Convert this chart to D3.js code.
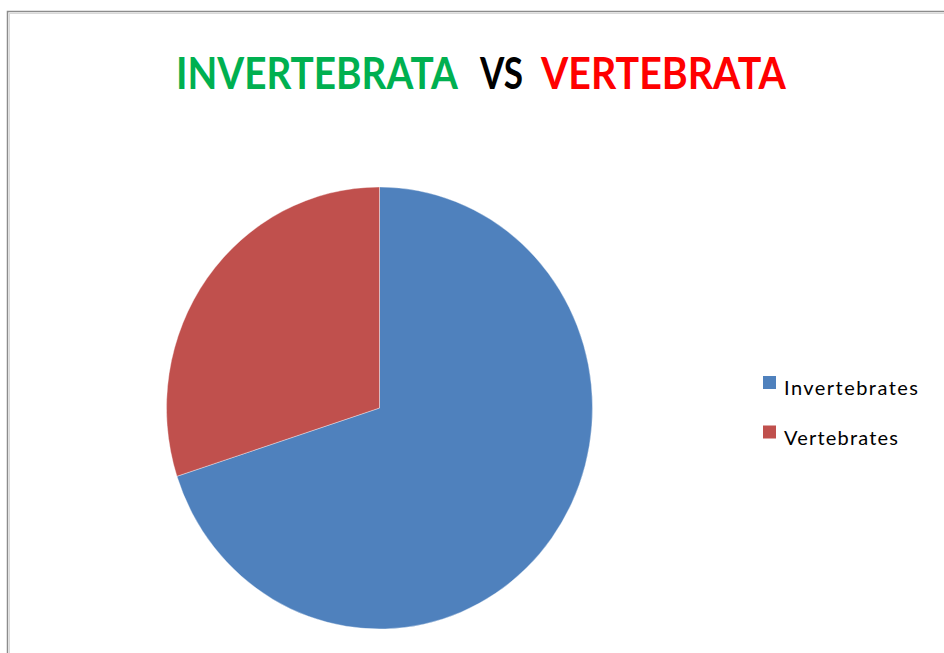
<!DOCTYPE html>
<meta charset="utf-8">
<script src="https://d3js.org/d3.v7.min.js"></script>
<style>
  body { margin: 0; background: #fff; }
</style>
<div id="my_dataviz"></div>
<script>

// chart data
var categories = ["Invertebrates", "Vertebrates"];
var values = [70, 30];
var colors = ["#4F81BD", "#C0504D"];
var titleWords = ["INVERTEBRATA", "VS", "VERTEBRATA"];
var titleColors = ["#00B050", "#000000", "#FF0000"];

var width = 944, height = 653;

var svg = d3.select("#my_dataviz")
  .append("svg")
  .attr("width", width)
  .attr("height", height);

// chart frame (runs off the right and bottom edges)
svg.append("rect")
  .attr("x", 7.5).attr("y", 11.5)
  .attr("width", 960).attr("height", 680)
  .attr("fill", "#fff")
  .attr("stroke", "#8c8c8c")
  .attr("stroke-width", 1.5);
svg.append("rect")
  .attr("x", 9.5).attr("y", 13.5)
  .attr("width", 960).attr("height", 680)
  .attr("fill", "none")
  .attr("stroke", "#d9d9d9")
  .attr("stroke-width", 1);

// title, one word at a time; each word is squeezed horizontally to the
// width it has in the source (the original font is narrower than Lato)
var titleX = [176, 480, 541];
var titleW = [282, 43, 245];
svg.append("g").selectAll("text")
  .data(titleWords)
  .enter().append("text")
  .attr("x", 0)
  .attr("y", 0)
  .attr("fill", function(d, i) { return titleColors[i]; })
  .style("font-family", "Lato, 'Open Sans', sans-serif")
  .style("font-weight", "bold")
  .style("font-size", "43px")
  .text(function(d) { return d; })
  .attr("transform", function(d, i) {
    var w = this.getComputedTextLength();
    return "translate(" + titleX[i] + ",89) scale(" + (titleW[i] / w) + ",1)";
  });

// pie (slightly taller than wide, like the source)
var rx = 213, ry = 221;
var cx = 379.5, cy = 408;

var pie = d3.pie()
  .sort(null)
  .value(function(d) { return d; });

var arc = d3.arc()
  .innerRadius(0)
  .outerRadius(rx);

var g = svg.append("g")
  .attr("transform", "translate(" + cx + "," + cy + ") scale(1," + (ry / rx) + ")");

g.selectAll("path")
  .data(pie(values))
  .enter().append("path")
  .attr("d", arc)
  .attr("fill", function(d, i) { return colors[i]; })
  .attr("stroke", "#fff")
  .attr("stroke-width", 0.6)
  .attr("stroke-opacity", 0.6);

// legend
var labelW = [134, 114];
var legend = svg.append("g")
  .attr("transform", "translate(763,376)");

var item = legend.selectAll("g")
  .data(categories)
  .enter().append("g")
  .attr("transform", function(d, i) { return "translate(0," + (i * 49.5) + ")"; });

item.append("rect")
  .attr("width", 13)
  .attr("height", 13)
  .attr("fill", function(d, i) { return colors[i]; });

item.append("text")
  .attr("x", 21)
  .attr("y", 19)
  .attr("textLength", function(d, i) { return labelW[i]; })
  .attr("lengthAdjust", "spacing")
  .style("font-family", "Lato, 'Open Sans', sans-serif")
  .style("font-size", "20px")
  .attr("fill", "#000")
  .text(function(d) { return d; });

</script>
